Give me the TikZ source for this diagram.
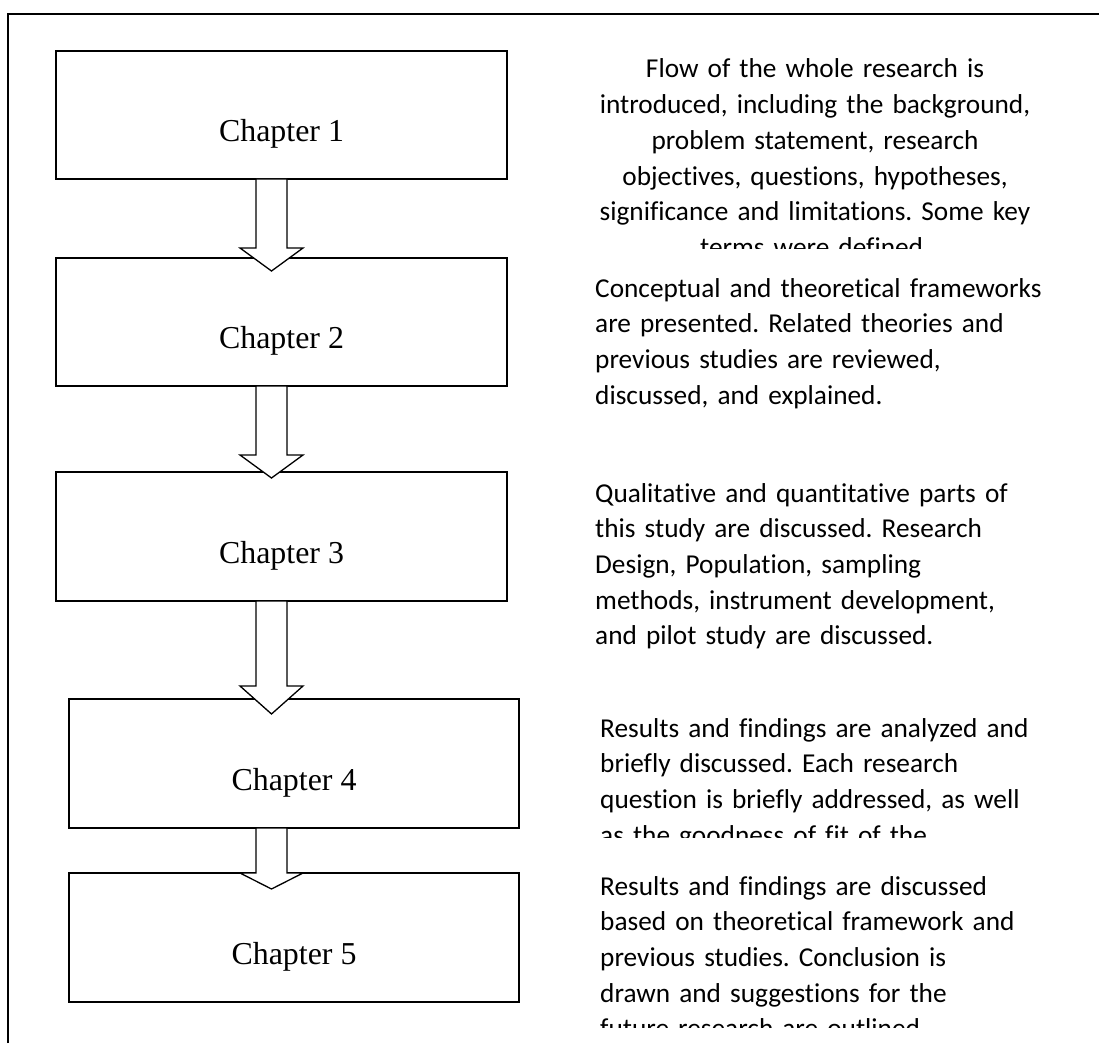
\documentclass[tikz,border=0pt]{standalone}
\usepackage{fontspec}
\setmainfont{Liberation Serif}
\newfontfamily\bodyfont[Ligatures=NoCommon]{Carlito}
\usetikzlibrary{calc}
\frenchspacing
\newcommand\blockarrow[4]{% #1 from node, #2 to node, #3 tip depth into target, #4 head length
  \draw[barrow] let \p1=(#1.south), \p2=(#2.north) in
    (256pt,\y1) -- (256pt,\y2-#3pt+#4pt) -- (240pt,\y2-#3pt+#4pt) -- (271.5pt,\y2-#3pt)
    -- (303pt,\y2-#3pt+#4pt) -- (287pt,\y2-#3pt+#4pt) -- (287pt,\y1) -- cycle;}
\begin{document}
\begin{tikzpicture}[x=1pt,y=-1pt,
  chapbox/.style={draw=black,line width=1.6pt,rectangle,anchor=north west,inner sep=0pt,outer sep=0pt,
    font=\fontsize{31.9pt}{38pt}\selectfont},
  desc/.style={inner sep=0pt,text width=490pt,font=\bodyfont\frenchspacing\fontsize{27.3pt}{35.7pt}\selectfont},
  barrow/.style={draw=black,fill=white,line width=1.3pt,line join=miter},
  frameline/.style={draw=black,line width=1.6pt}]
\useasboundingbox (0,0) rectangle (1099,1043);
\draw[frameline] (8,1043) -- (8,14) -- (1099,14);

\node[chapbox,minimum width=451pt,minimum height=128pt] (c1) at (56,51) {\raisebox{-27pt}[0pt][0pt]{Chapter 1}};
\node[chapbox,minimum width=451pt,minimum height=128pt] (c2) at (56,258) {\raisebox{-26.5pt}[0pt][0pt]{Chapter 2}};
\node[chapbox,minimum width=451pt,minimum height=129pt] (c3) at (56,472) {\raisebox{-26.5pt}[0pt][0pt]{Chapter 3}};
\node[chapbox,minimum width=450pt,minimum height=129pt] (c4) at (69,699) {\raisebox{-26.5pt}[0pt][0pt]{Chapter 4}};
\node[chapbox,minimum width=450pt,minimum height=129pt] (c5) at (69,873) {\raisebox{-26.5pt}[0pt][0pt]{Chapter 5}};

\blockarrow{c1}{c2}{13}{23}
\blockarrow{c2}{c3}{6}{23}
\blockarrow{c3}{c4}{15}{28}
\blockarrow{c4}{c5}{16}{16}

\begin{scope}
\clip (540,20) rectangle (1099,248);
\node[desc,align=center,anchor=base] (d1) at (815,78) {Flow of the whole research is\\ introduced, including the background,\\ problem statement, research\\ objectives, questions, hypotheses,\\ significance and limitations. Some key\\ terms were defined.};
\end{scope}

\node[desc,align=left,anchor=base west] (d2) at (595,297) {Conceptual and theoretical frameworks\\ are presented. Related theories and\\ previous studies are reviewed,\\ discussed, and explained.};

\node[desc,align=left,anchor=base west] (d3) at (595,502) {Qualitative and quantitative parts of\\ this study are discussed. Research\\ Design, Population, sampling\\ methods, instrument development,\\ and pilot study are discussed.};

\begin{scope}
\clip (540,690) rectangle (1099,837);
\node[desc,align=left,anchor=base west] (d4) at (600,737) {Results and findings are analyzed and\\ briefly discussed. Each research\\ question is briefly addressed, as well\\ as the goodness of fit of the};
\end{scope}

\begin{scope}
\clip (540,850) rectangle (1099,1027);
\node[desc,align=left,anchor=base west] (d5) at (600,895) {Results and findings are discussed\\ based on theoretical framework and\\ previous studies. Conclusion is\\ drawn and suggestions for the\\ future research are outlined.};
\end{scope}
\end{tikzpicture}
\end{document}
